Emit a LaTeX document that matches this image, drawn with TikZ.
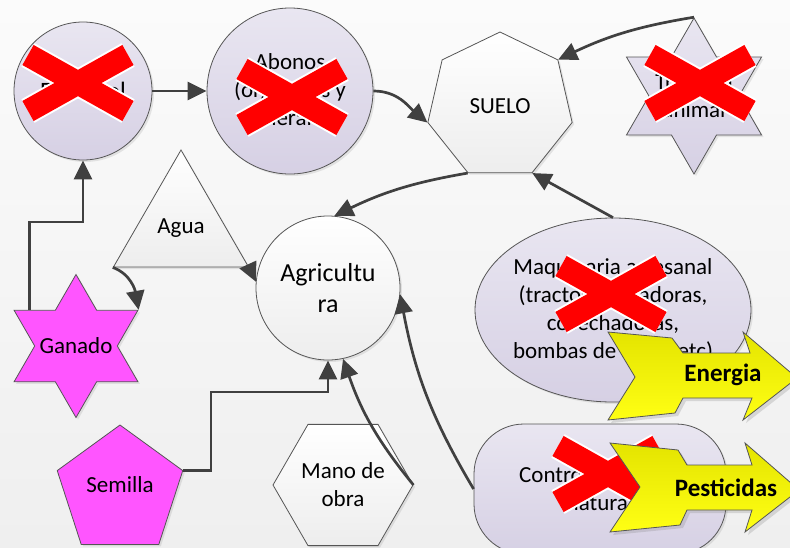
\documentclass[tikz,border=0pt]{standalone}
\usepackage{fontspec}
\setmainfont{Carlito}
\usetikzlibrary{shapes.geometric,arrows.meta,shadows}

\definecolor{lilaarriba}{RGB}{233,230,241}
\definecolor{lilaabajo}{RGB}{214,208,228}
\definecolor{rosa}{RGB}{255,85,255}
\definecolor{gris}{RGB}{64,64,64}
\definecolor{borde}{RGB}{85,85,85}
\definecolor{amarilloarriba}{RGB}{228,228,0}
\definecolor{amarilloabajo}{RGB}{255,255,20}
\definecolor{fondoarriba}{RGB}{251,251,251}
\definecolor{fondoabajo}{RGB}{239,239,239}

\tikzset{
  forma/.style={draw=borde, line width=0.8pt, inner sep=0pt, align=center,
    drop shadow={opacity=0.18, shadow xshift=2pt, shadow yshift=-2pt}},
  lila/.style={forma, top color=lilaarriba, bottom color=lilaabajo},
  blanco/.style={forma, top color=white, bottom color=gray!14},
  magenta/.style={forma, fill=rosa},
  estrella/.style={star, star points=6, star point ratio=1.732},
  conector/.style={color=gris, line width=2.7pt, -{Triangle[length=19pt,width=18pt]}},
  tache/.style={red, line width=23pt},
  tacheborde/.style={white, line width=27pt},
  flecha/.style={draw=borde, line width=0.8pt, top color=amarilloarriba, bottom color=amarilloabajo,
    drop shadow={opacity=0.25, shadow xshift=3pt, shadow yshift=-3pt}},
}

\begin{document}
\begin{tikzpicture}[x=1pt, y=1pt, every node/.style={font=\fontsize{23}{28}\selectfont}]
  \shade[top color=fondoarriba, bottom color=fondoabajo, use as bounding box] (0,0) rectangle (790,-547);
  \draw
    (83,-91) node[lila, circle, minimum size=138pt, font=\fontsize{25}{30}\selectfont] (estiercol) {Estiércol}
    (290,-91) node[lila, circle, minimum size=166pt] (abonos) {Abonos\\(orgánicos y\\minerales)}
    (500,-106) node[blanco, regular polygon, regular polygon sides=7, minimum size=148pt] (suelo) {SUELO}
    (694,-96) node[lila, estrella, minimum size=156pt, label={[align=center]center:Tracción\\animal}] (traccion) {}
    (181,-228) node[blanco, regular polygon, regular polygon sides=3, minimum size=156pt] (agua) {Agua}
    (328,-288) node[blanco, circle, minimum size=144pt, font=\fontsize{26}{31}\selectfont] (agricultura) {Agricultu\\ra}
    (613,-310) node[lila, ellipse, minimum width=276pt, minimum height=184pt, label={[align=center]center:Maquinaria artesanal\\(tractores, aradoras,\\cosechadoras,\\bombas de agua, etc)}] (maquinaria) {}
    (76,-346) node[magenta, estrella, minimum size=143pt, label=center:Ganado] (ganado) {}
    (120,-491) node[magenta, regular polygon, regular polygon sides=5, minimum size=132pt, label={[yshift=6pt]center:Semilla}] (semilla) {}
    (343,-485) node[blanco, regular polygon, regular polygon sides=6, minimum size=140pt] (mano) {Mano de\\obra}
    (600,-489) node[lila, rectangle, rounded corners=50pt, minimum width=252pt, minimum height=130pt] (control) {Control de plagas\\natural};
  \begin{scope}[conector]
    \draw (estiercol) -- (abonos);
    \draw (abonos.east) to[out=0, in=140] (suelo.corner 3);
    \draw (traccion.north) to[bend right=8] (suelo.corner 7);
    \draw (suelo.corner 4) to[bend right=8] (agricultura.85);
    \draw (maquinaria.north) -- (suelo.corner 5);
    \draw (agua.corner 3) -- (agricultura.175);
    \draw (agua.corner 2) to[out=-20, in=100] (ganado.outer point 6);
    \draw ([xshift=16pt]ganado.outer point 2) -- ++(0,88) -| (estiercol.south);
    \draw (semilla.corner 5) -| (211,-392) -| (agricultura.south);
    \draw (mano.corner 6) to[bend left=10] (agricultura.-78);
    \draw (control.west) to[bend left=10] (agricultura.-5);
  \end{scope}
  % cruces rojas
  \draw[tacheborde] (28,-55) -- (128,-111) (28,-111) -- (128,-55);
  \draw[tache] (28,-55) -- (128,-111) (28,-111) -- (128,-55);
  \draw[tacheborde] (242,-69) -- (342,-125) (242,-125) -- (342,-69);
  \draw[tache] (242,-69) -- (342,-125) (242,-125) -- (342,-69);
  \draw[tacheborde] (650,-55) -- (750,-111) (650,-111) -- (750,-55);
  \draw[tache] (650,-55) -- (750,-111) (650,-111) -- (750,-55);
  \draw[tacheborde] (561,-266) -- (661,-322) (561,-322) -- (661,-266);
  \draw[tache] (561,-266) -- (661,-322) (561,-322) -- (661,-266);
  \draw[tacheborde] (558,-446) -- (658,-502) (558,-502) -- (658,-446);
  \draw[tache] (558,-446) -- (658,-502) (558,-502) -- (658,-446);
  % flechas amarillas
  \draw[flecha] (608,-332) -- (672,-338) -- (683,-353) -- (750,-353) -- (743,-332) -- (797,-378)
    -- (743,-420) -- (752,-398) -- (683,-398) -- (675,-413) -- (608,-420) -- (635,-377) -- cycle;
  \draw[flecha] (610,-443) -- (678,-450) -- (687,-465) -- (752,-465) -- (745,-443) -- (799,-490)
    -- (745,-532) -- (752,-510) -- (687,-510) -- (680,-525) -- (610,-532) -- (640,-487) -- cycle;
  \node[font=\bfseries\fontsize{25}{30}\selectfont] (energia) at (723,-375) {Energia};
  \node[font=\bfseries\fontsize{25}{30}\selectfont] (pesticidas) at (726,-488) {Pesticidas};
\end{tikzpicture}
\end{document}
